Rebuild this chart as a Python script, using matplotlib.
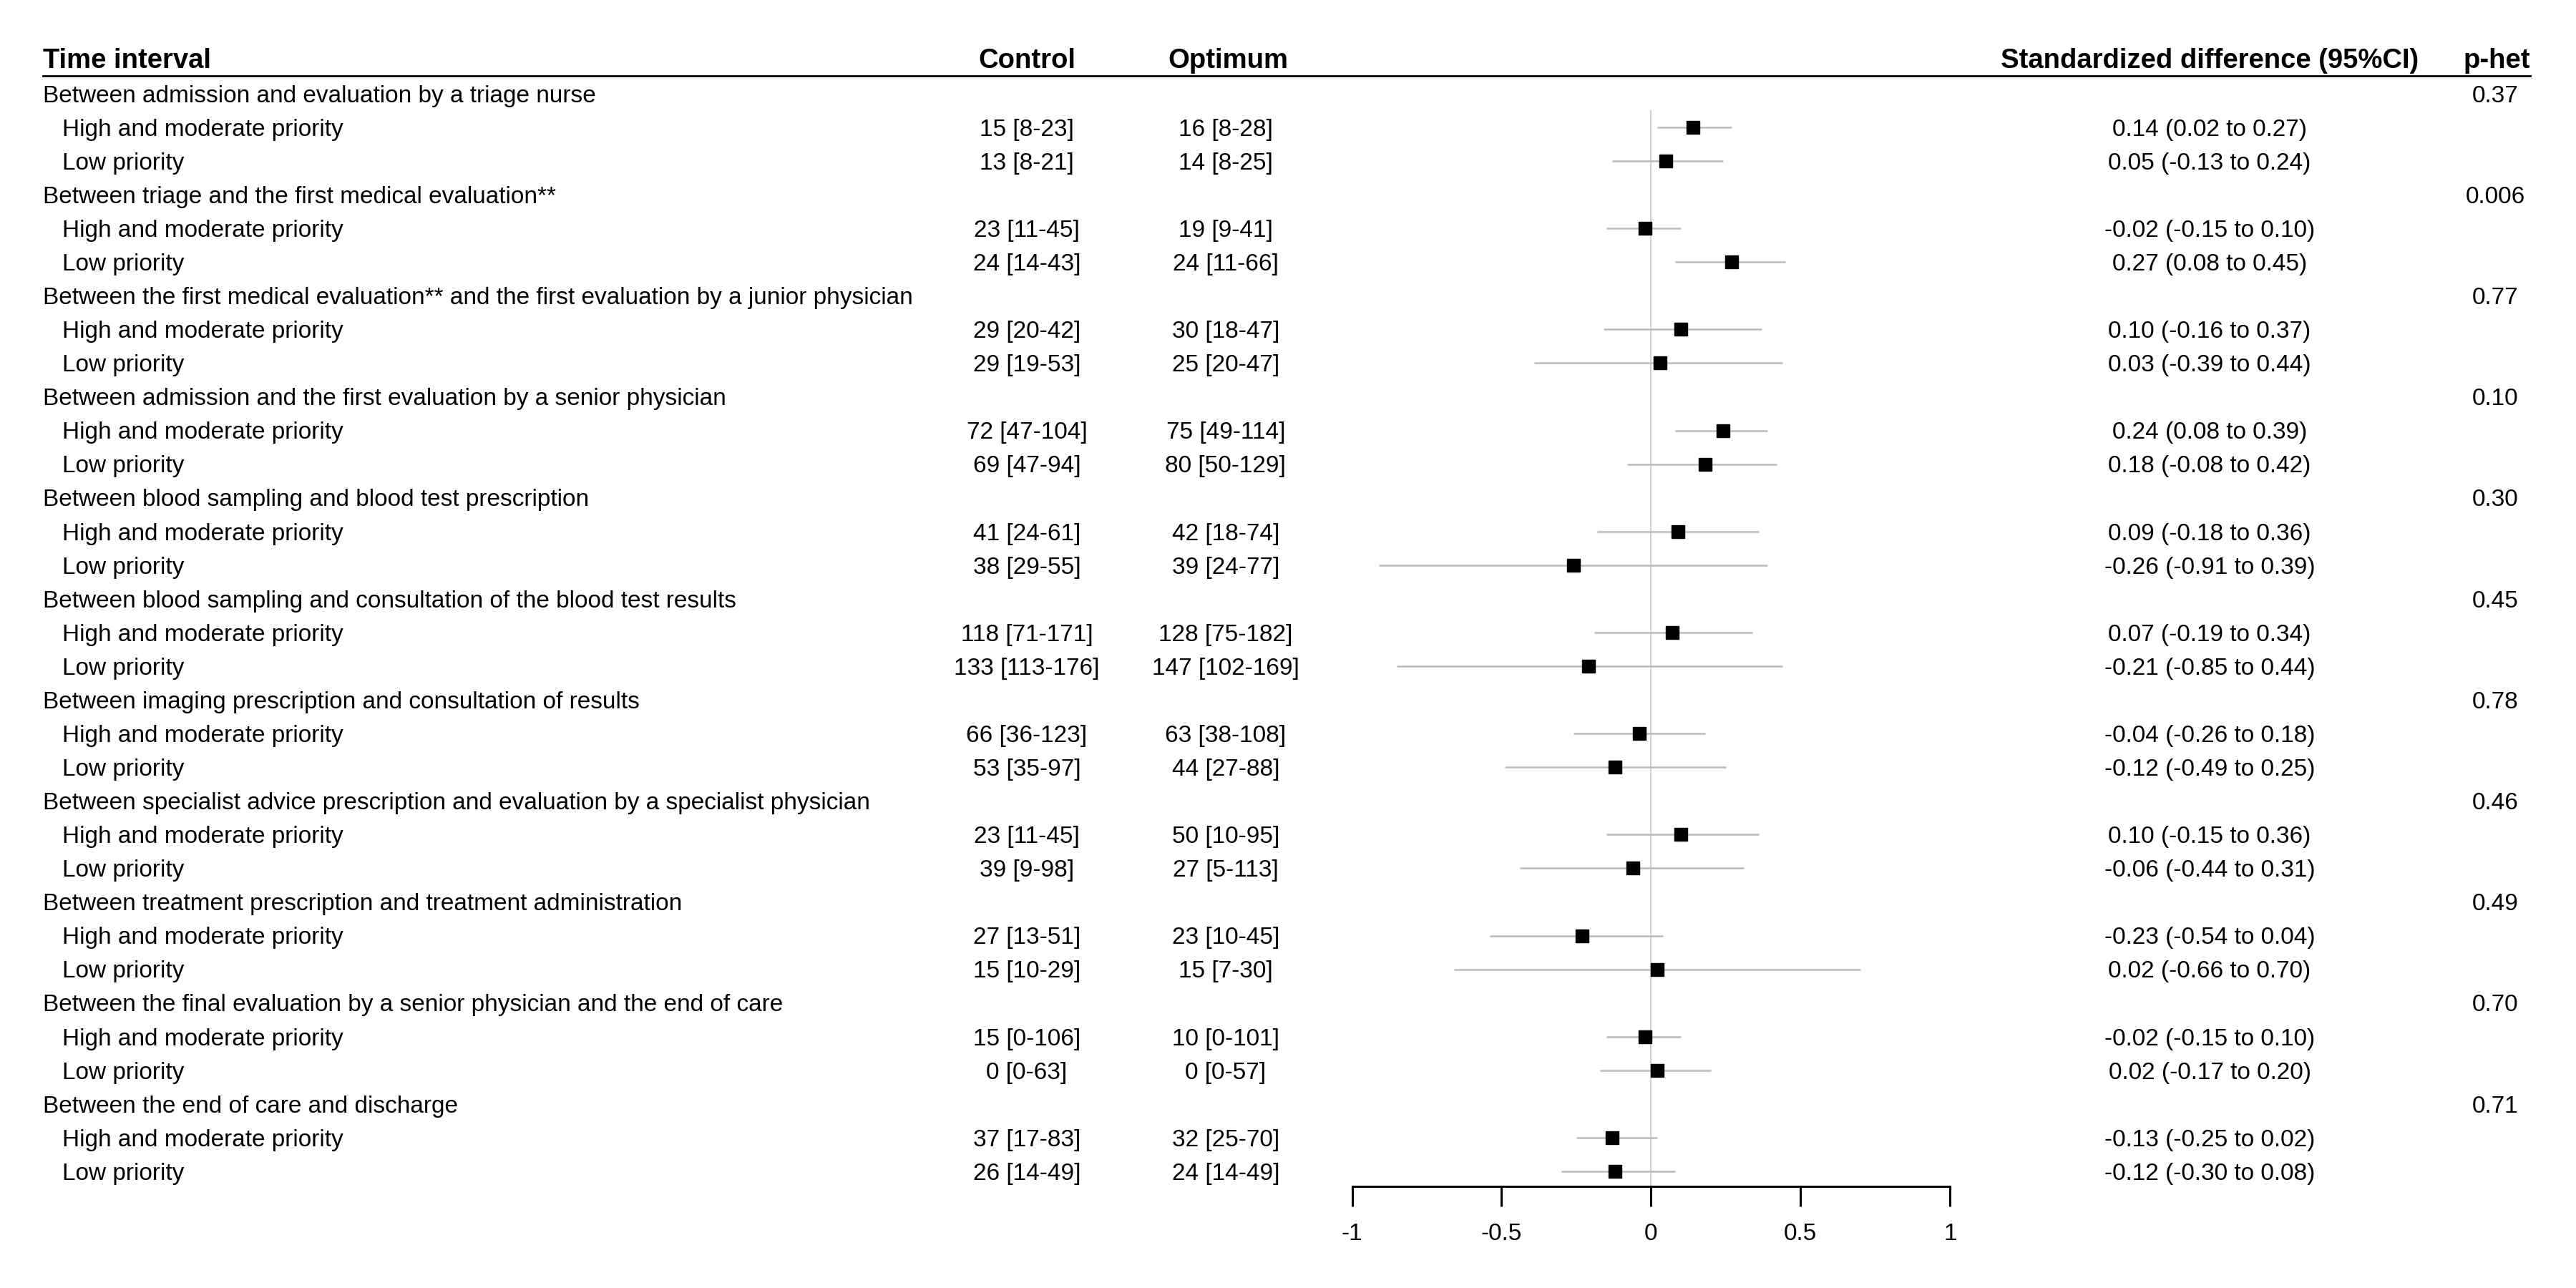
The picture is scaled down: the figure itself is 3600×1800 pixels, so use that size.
import matplotlib
matplotlib.use("Agg")
import matplotlib.pyplot as plt
import matplotlib.transforms as mtransforms
from matplotlib.lines import Line2D

plt.rcParams['font.family'] = ['Liberation Sans', 'DejaVu Sans']

groups = [
    "Between admission and evaluation by a triage nurse",
    "Between triage and the first medical evaluation**",
    "Between the first medical evaluation** and the first evaluation by a junior physician",
    "Between admission and the first evaluation by a senior physician",
    "Between blood sampling and blood test prescription",
    "Between blood sampling and consultation of the blood test results",
    "Between imaging prescription and consultation of results",
    "Between specialist advice prescription and evaluation by a specialist physician",
    "Between treatment prescription and treatment administration",
    "Between the final evaluation by a senior physician and the end of care",
    "Between the end of care and discharge",
]
p_het = ["0.37", "0.006", "0.77", "0.10", "0.30", "0.45", "0.78", "0.46", "0.49", "0.70", "0.71"]
subgroups = ["High and moderate priority", "Low priority"]

control = [
    "15 [8-23]", "13 [8-21]",
    "23 [11-45]", "24 [14-43]",
    "29 [20-42]", "29 [19-53]",
    "72 [47-104]", "69 [47-94]",
    "41 [24-61]", "38 [29-55]",
    "118 [71-171]", "133 [113-176]",
    "66 [36-123]", "53 [35-97]",
    "23 [11-45]", "39 [9-98]",
    "27 [13-51]", "15 [10-29]",
    "15 [0-106]", "0 [0-63]",
    "37 [17-83]", "26 [14-49]",
]
optimum = [
    "16 [8-28]", "14 [8-25]",
    "19 [9-41]", "24 [11-66]",
    "30 [18-47]", "25 [20-47]",
    "75 [49-114]", "80 [50-129]",
    "42 [18-74]", "39 [24-77]",
    "128 [75-182]", "147 [102-169]",
    "63 [38-108]", "44 [27-88]",
    "50 [10-95]", "27 [5-113]",
    "23 [10-45]", "15 [7-30]",
    "10 [0-101]", "0 [0-57]",
    "32 [25-70]", "24 [14-49]",
]
est = [0.14, 0.05, -0.02, 0.27, 0.10, 0.03, 0.24, 0.18, 0.09, -0.26, 0.07, -0.21,
       -0.04, -0.12, 0.10, -0.06, -0.23, 0.02, -0.02, 0.02, -0.13, -0.12]
lo = [0.02, -0.13, -0.15, 0.08, -0.16, -0.39, 0.08, -0.08, -0.18, -0.91, -0.19, -0.85,
      -0.26, -0.49, -0.15, -0.44, -0.54, -0.66, -0.15, -0.17, -0.25, -0.30]
hi = [0.27, 0.24, 0.10, 0.45, 0.37, 0.44, 0.39, 0.42, 0.36, 0.39, 0.34, 0.44,
      0.18, 0.25, 0.36, 0.31, 0.04, 0.70, 0.10, 0.20, 0.02, 0.08]
xticks = [-1, -0.5, 0, 0.5, 1]
xticklabels = ["-1", "-0.5", "0", "0.5", "1"]

W = 1568.0
H = 784.0
fig = plt.figure(figsize=(36, 18), dpi=100)

n_rows = len(groups) * 3
ax_left = 823 / W
ax_right = 1187 / W
ax_top = 1 - 46 / H
ax_bot = 1 - 722 / H
ax = fig.add_axes([ax_left, ax_bot, ax_right - ax_left, ax_top - ax_bot])
ax.set_xlim(-1, 1)
ax.set_ylim((n_rows - 1) + 9 / 20.5, -11 / 20.5)

for s in ["top", "left", "right"]:
    ax.spines[s].set_visible(False)
ax.spines["bottom"].set_linewidth(2.2)
ax.set_yticks([])
ax.set_xticks(xticks)
ax.set_xticklabels(xticklabels, fontsize=24)
ax.tick_params(axis="x", length=20, width=2.2, pad=17, direction="out")
ax.patch.set_visible(False)

ax.vlines(0, 0.5, (n_rows - 1) + 9 / 20.5, color="#cccccc", lw=1.3, zorder=1)

fs = 24
fs_h = 27.5
tr = mtransforms.blended_transform_factory(fig.transFigure, ax.transData)
dy = 0.07  # small text offset so glyphs sit centred on the row

x_lab = 26 / W
x_sub = 38 / W
x_ctrl = 625 / W
x_opt = 746 / W
x_ci = 1345 / W
x_p = 1519 / W

row = 0
k = 0
for gi, g in enumerate(groups):
    ax.text(x_lab, row + dy, g, transform=tr, ha="left", va="center", fontsize=fs)
    ax.text(x_p, row + dy, p_het[gi], transform=tr, ha="center", va="center", fontsize=fs)
    row += 1
    for sg in subgroups:
        ax.text(x_sub, row + dy, sg, transform=tr, ha="left", va="center", fontsize=fs)
        ax.text(x_ctrl, row + dy, control[k], transform=tr, ha="center", va="center", fontsize=fs)
        ax.text(x_opt, row + dy, optimum[k], transform=tr, ha="center", va="center", fontsize=fs)
        ci_txt = f"{est[k]:.2f} ({lo[k]:.2f} to {hi[k]:.2f})"
        ax.text(x_ci, row + dy, ci_txt, transform=tr, ha="center", va="center", fontsize=fs)
        ax.hlines(row, lo[k], hi[k], color="#bbbbbb", lw=1.8, zorder=2)
        ax.plot(est[k], row, marker="s", color="black", markersize=13, zorder=3, clip_on=False)
        row += 1
        k += 1

# header
y_head = 1 - 37 / H
fig.text(x_lab, y_head, "Time interval", ha="left", va="center", fontsize=fs_h, fontweight="bold")
fig.text(x_ctrl, y_head, "Control", ha="center", va="center", fontsize=fs_h, fontweight="bold")
fig.text(x_opt + 1.5 / W, y_head, "Optimum", ha="center", va="center", fontsize=fs_h, fontweight="bold")
fig.text(x_ci, y_head, "Standardized difference (95%CI)", ha="center", va="center", fontsize=fs_h, fontweight="bold")
fig.text(1540 / W, y_head, "p-het", ha="right", va="center", fontsize=fs_h, fontweight="bold")
fig.add_artist(Line2D([26 / W, 1540 / W], [ax_top, ax_top], transform=fig.transFigure,
                      color="black", lw=2.0))

fig.savefig("out.png", dpi=100, facecolor="white")
